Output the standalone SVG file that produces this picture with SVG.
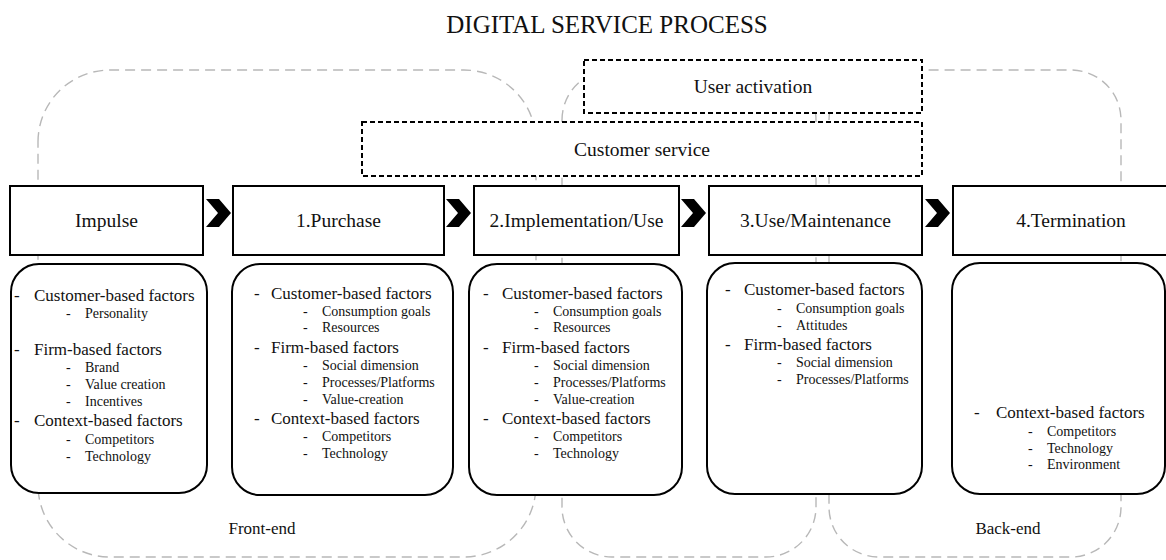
<svg xmlns="http://www.w3.org/2000/svg" width="1166" height="560" viewBox="0 0 1166 560">
  <style>
    .bg { fill: #ffffff; }
    .loop { fill: none; stroke: #b8b8b8; stroke-width: 1.4; stroke-dasharray: 10 6; }
    .stage { fill: #ffffff; stroke: #000000; stroke-width: 2; }
    .detail { fill: #ffffff; stroke: #000000; stroke-width: 2; }
    .service { fill: #ffffff; stroke: #000000; stroke-width: 2; stroke-dasharray: 5 3; }
    .chev { fill: #000000; }
    text { font-family: "Liberation Serif", "Times New Roman", serif; fill: #111111; }
    .title { font-size: 25px; text-anchor: middle; }
    .head { font-size: 19.5px; text-anchor: middle; }
    .main { font-size: 17px; }
    .sub { font-size: 14px; }
    .phase { font-size: 17px; text-anchor: middle; }
  </style>
  <defs>
    <path id="chevron" d="M0,0 L13,0 L25,14 L13,28 L0,28 L12,14 Z"/>
  </defs>

  <rect class="bg" x="0" y="0" width="1166" height="560"/>

  <text id="title" class="title" x="607" y="33">DIGITAL SERVICE PROCESS</text>

  <!-- phase loops drawn behind the boxes -->
  <g id="phase-loops">
    <path class="loop" d="M38,142 A72,72 0 0 1 110,70 L464,70 A72,72 0 0 1 536,142 L536,485 A72,72 0 0 1 464,557 L110,557 A72,72 0 0 1 38,485 Z"/>
    <path class="loop" d="M562,120 A50,50 0 0 1 612,70 L766,70 A50,50 0 0 1 816,120 L816,507 A50,50 0 0 1 766,557 L612,557 A50,50 0 0 1 562,507 Z"/>
    <path class="loop" d="M829,120 A50,50 0 0 1 879,70 L1071,70 A50,50 0 0 1 1121,120 L1121,507 A50,50 0 0 1 1071,557 L879,557 A50,50 0 0 1 829,507 Z"/>
  </g>

  <g id="user-activation">
    <rect class="service" x="584" y="60" width="338" height="53"/>
    <text class="head" x="753" y="93">User activation</text>
  </g>

  <g id="customer-service">
    <rect class="service" x="362" y="122" width="560" height="54"/>
    <text class="head" x="642" y="156">Customer service</text>
  </g>

  <g id="connectors">
    <use href="#chevron" class="chev" x="206" y="199"/>
    <use href="#chevron" class="chev" x="446" y="199"/>
    <use href="#chevron" class="chev" x="681" y="199"/>
    <use href="#chevron" class="chev" x="925" y="199"/>
  </g>

  <g id="impulse">
    <rect class="stage" x="10" y="186" width="193" height="69"/>
    <text class="head" x="106.5" y="227">Impulse</text>
    <rect class="detail" x="11" y="264" width="196" height="229" rx="28" ry="28"/>
    <text class="main" x="14" y="301">-</text><text class="main" x="34" y="301">Customer-based factors</text>
    <text class="sub" x="66" y="318">-</text><text class="sub" x="85" y="318">Personality</text>
    <text class="main" x="14" y="355">-</text><text class="main" x="34" y="355">Firm-based factors</text>
    <text class="sub" x="66" y="372">-</text><text class="sub" x="85" y="372">Brand</text>
    <text class="sub" x="66" y="389">-</text><text class="sub" x="85" y="389">Value creation</text>
    <text class="sub" x="66" y="406">-</text><text class="sub" x="85" y="406">Incentives</text>
    <text class="main" x="14" y="426">-</text><text class="main" x="34" y="426">Context-based factors</text>
    <text class="sub" x="66" y="444">-</text><text class="sub" x="85" y="444">Competitors</text>
    <text class="sub" x="66" y="461">-</text><text class="sub" x="85" y="461">Technology</text>
  </g>

  <g id="purchase">
    <rect class="stage" x="233" y="186" width="211" height="69"/>
    <text class="head" x="338.5" y="227">1.Purchase</text>
    <rect class="detail" x="232" y="264" width="221" height="231" rx="28" ry="28"/>
    <text class="main" x="254" y="299">-</text><text class="main" x="271" y="299">Customer-based factors</text>
    <text class="sub" x="303" y="316">-</text><text class="sub" x="322" y="316">Consumption goals</text>
    <text class="sub" x="303" y="332">-</text><text class="sub" x="322" y="332">Resources</text>
    <text class="main" x="254" y="353">-</text><text class="main" x="271" y="353">Firm-based factors</text>
    <text class="sub" x="303" y="370">-</text><text class="sub" x="322" y="370">Social dimension</text>
    <text class="sub" x="303" y="387">-</text><text class="sub" x="322" y="387">Processes/Platforms</text>
    <text class="sub" x="303" y="404">-</text><text class="sub" x="322" y="404">Value-creation</text>
    <text class="main" x="254" y="424">-</text><text class="main" x="271" y="424">Context-based factors</text>
    <text class="sub" x="303" y="441">-</text><text class="sub" x="322" y="441">Competitors</text>
    <text class="sub" x="303" y="458">-</text><text class="sub" x="322" y="458">Technology</text>
  </g>

  <g id="implementation">
    <rect class="stage" x="474" y="186" width="205" height="69"/>
    <text class="head" x="576.5" y="227">2.Implementation/Use</text>
    <rect class="detail" x="469" y="264" width="213" height="231" rx="28" ry="28"/>
    <text class="main" x="483" y="299">-</text><text class="main" x="502" y="299">Customer-based factors</text>
    <text class="sub" x="534" y="316">-</text><text class="sub" x="553" y="316">Consumption goals</text>
    <text class="sub" x="534" y="332">-</text><text class="sub" x="553" y="332">Resources</text>
    <text class="main" x="483" y="353">-</text><text class="main" x="502" y="353">Firm-based factors</text>
    <text class="sub" x="534" y="370">-</text><text class="sub" x="553" y="370">Social dimension</text>
    <text class="sub" x="534" y="387">-</text><text class="sub" x="553" y="387">Processes/Platforms</text>
    <text class="sub" x="534" y="404">-</text><text class="sub" x="553" y="404">Value-creation</text>
    <text class="main" x="483" y="424">-</text><text class="main" x="502" y="424">Context-based factors</text>
    <text class="sub" x="534" y="441">-</text><text class="sub" x="553" y="441">Competitors</text>
    <text class="sub" x="534" y="458">-</text><text class="sub" x="553" y="458">Technology</text>
  </g>

  <g id="use-maintenance">
    <rect class="stage" x="709" y="186" width="213" height="69"/>
    <text class="head" x="815.5" y="227">3.Use/Maintenance</text>
    <rect class="detail" x="707" y="263" width="215" height="231" rx="28" ry="28"/>
    <text class="main" x="725" y="295">-</text><text class="main" x="744" y="295">Customer-based factors</text>
    <text class="sub" x="777" y="313">-</text><text class="sub" x="796" y="313">Consumption goals</text>
    <text class="sub" x="777" y="330">-</text><text class="sub" x="796" y="330">Attitudes</text>
    <text class="main" x="725" y="350">-</text><text class="main" x="744" y="350">Firm-based factors</text>
    <text class="sub" x="777" y="367">-</text><text class="sub" x="796" y="367">Social dimension</text>
    <text class="sub" x="777" y="384">-</text><text class="sub" x="796" y="384">Processes/Platforms</text>
  </g>

  <g id="termination">
    <rect class="stage" x="953" y="186" width="240" height="69"/>
    <text class="head" x="1071" y="227">4.Termination</text>
    <rect class="detail" x="952" y="263" width="213" height="231" rx="28" ry="28"/>
    <text class="main" x="974" y="418">-</text><text class="main" x="996" y="418">Context-based factors</text>
    <text class="sub" x="1028" y="436">-</text><text class="sub" x="1047" y="436">Competitors</text>
    <text class="sub" x="1028" y="453">-</text><text class="sub" x="1047" y="453">Technology</text>
    <text class="sub" x="1028" y="469">-</text><text class="sub" x="1047" y="469">Environment</text>
  </g>

  <g id="phase-labels">
    <text class="phase" x="262" y="534">Front-end</text>
    <text class="phase" x="1008" y="534">Back-end</text>
  </g>
</svg>
